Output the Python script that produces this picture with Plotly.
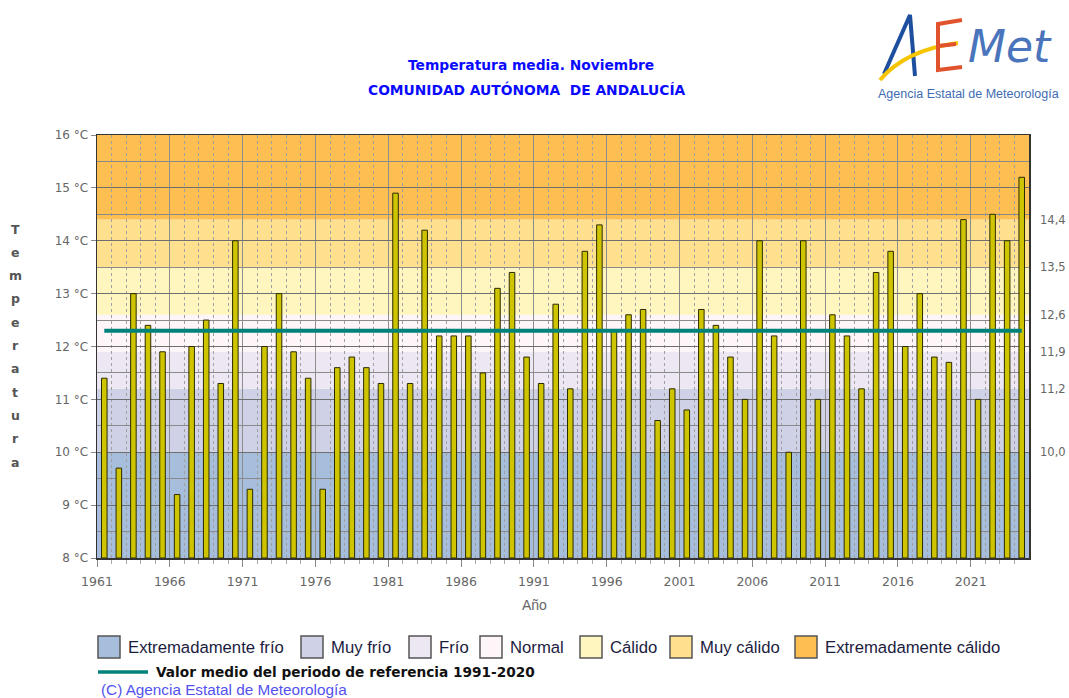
import plotly.graph_objects as go

# ---------------- data ----------------
years = list(range(1961, 2025))
temps = [11.4, 9.7, 13.0, 12.4, 11.9, 9.2, 12.0, 12.5, 11.3, 14.0,
         9.3, 12.0, 13.0, 11.9, 11.4, 9.3, 11.6, 11.8, 11.6, 11.3,
         14.9, 11.3, 14.2, 12.2, 12.2, 12.2, 11.5, 13.1, 13.4, 11.8,
         11.3, 12.8, 11.2, 13.8, 14.3, 12.3, 12.6, 12.7, 10.6, 11.2,
         10.8, 12.7, 12.4, 11.8, 11.0, 14.0, 12.2, 10.0, 14.0, 11.0,
         12.6, 12.2, 11.2, 13.4, 13.8, 12.0, 13.0, 11.8, 11.7, 14.4,
         11.0, 14.5, 14.0, 15.2]
ref_mean = 12.3
ref_label = "Valor medio del periodo de referencia 1991-2020"

band_names = ["Extremadamente frío", "Muy frío", "Frío", "Normal",
              "Cálido", "Muy cálido", "Extremadamente cálido"]
band_edges = [8.0, 10.0, 11.2, 11.9, 12.6, 13.5, 14.4, 16.0]
band_colors = ["#a6bddc", "#cfd1e6", "#ece7f2", "#fdf5f8",
               "#fff5bf", "#fee08f", "#fdbf52"]
right_ticks = [10.0, 11.2, 11.9, 12.6, 13.5, 14.4]
x_ticks = list(range(1961, 2025, 5))

title1 = "Temperatura media. Noviembre"
title2 = "COMUNIDAD AUTÓNOMA  DE ANDALUCÍA"
ytitle = "Temperatura"
copyright_txt = "(C) Agencia Estatal de Meteorología"

# ---------------- layout helpers ----------------
W_FIG, H_FIG = 1069, 698
L, R, T, B = 97, 1029, 135, 558          # plot area in window pixels
PW, PH = R - L, B - T


def px(x):
    return (x - L) / PW


def py(y):
    return (B - y) / PH


x_lo = years[0] - 0.5
x_hi = years[-1] + 0.5

fig = go.Figure()

fig.add_trace(go.Bar(
    x=years, y=[t - band_edges[0] for t in temps], base=band_edges[0],
    width=0.38,
    marker=dict(color="#cfc400", line=dict(color="#2b2b00", width=1)),
    showlegend=False, hoverinfo="skip"))

fig.add_trace(go.Scatter(
    x=[years[0], years[-1]], y=[ref_mean, ref_mean], mode="lines",
    line=dict(color="#00827a", width=4), showlegend=False, hoverinfo="skip"))

# invisible trace for right axis
fig.add_trace(go.Scatter(x=[years[0]], y=[band_edges[0]], yaxis="y2",
                         mode="markers", marker=dict(opacity=0),
                         showlegend=False, hoverinfo="skip"))

shapes = []
for i, name in enumerate(band_names):
    shapes.append(dict(type="rect", xref="x", yref="y", x0=x_lo, x1=x_hi,
                       y0=band_edges[i], y1=band_edges[i + 1],
                       fillcolor=band_colors[i], line=dict(width=0),
                       layer="below"))

annotations = []
# titles
annotations.append(dict(text="<b>" + title1 + "</b>", x=px(531), y=py(65),
                        xref="paper", yref="paper", showarrow=False,
                        xanchor="center", yanchor="middle",
                        font=dict(family="DejaVu Sans", size=13.8, color="#0a0aff")))
annotations.append(dict(text="<b>" + title2 + "</b>", x=px(527), y=py(90),
                        xref="paper", yref="paper", showarrow=False,
                        xanchor="center", yanchor="middle",
                        font=dict(family="DejaVu Sans", size=13.8, color="#0a0aff")))

# vertical y title
for k, ch in enumerate(ytitle):
    annotations.append(dict(text="<b>" + ch + "</b>", x=px(15), y=py(229 + k * 23.3),
                            xref="paper", yref="paper", showarrow=False,
                            xanchor="center", yanchor="middle",
                            font=dict(family="DejaVu Sans", size=12.5, color="#555555")))

# x axis title
annotations.append(dict(text="Año", x=px(534), y=py(605), xref="paper", yref="paper",
                        showarrow=False, xanchor="center", yanchor="middle",
                        font=dict(family="Liberation Sans", size=14, color="#666666")))

# legend
leg_x = [98, 301, 409, 480, 580, 670, 795]
for i, name in enumerate(band_names):
    x0 = leg_x[i]
    shapes.append(dict(type="rect", xref="paper", yref="paper",
                       x0=px(x0), x1=px(x0 + 22), y0=py(658), y1=py(636),
                       fillcolor=band_colors[i], line=dict(color="#555555", width=1.5)))
    annotations.append(dict(text=name, x=px(x0 + 28), y=py(647), xref="paper", yref="paper",
                            showarrow=False, xanchor="left", yanchor="middle",
                            font=dict(family="Liberation Sans", size=16.7, color="#1c1c40")))
shapes.append(dict(type="line", xref="paper", yref="paper", x0=px(98), x1=px(148),
                   y0=py(672), y1=py(672), line=dict(color="#00827a", width=3.5)))
annotations.append(dict(text="<b>" + ref_label + "</b>", x=px(154), y=py(672),
                        xref="paper", yref="paper", showarrow=False,
                        xanchor="left", yanchor="middle",
                        font=dict(family="DejaVu Sans", size=13.7, color="#111111")))
annotations.append(dict(text=copyright_txt, x=px(99), y=py(689),
                        xref="paper", yref="paper", showarrow=False,
                        xanchor="left", yanchor="middle",
                        font=dict(family="Liberation Sans", size=15.3, color="#5252ee")))

# logo (decorative)
shapes.append(dict(type="path", xref="paper", yref="paper",
                   path=f"M {px(884)},{py(74)} L {px(910)},{py(15)} L {px(915)},{py(76)}",
                   line=dict(color="#1d4f9e", width=4)))
shapes.append(dict(type="path", xref="paper", yref="paper",
                   path=f"M {px(880)},{py(80)} Q {px(905)},{py(50)} {px(958)},{py(43)}",
                   line=dict(color="#f6c400", width=4)))
shapes.append(dict(type="path", xref="paper", yref="paper",
                   path=f"M {px(962)},{py(20)} L {px(938)},{py(24)} L {px(938)},{py(70)} L {px(962)},{py(67)}",
                   line=dict(color="#e0532c", width=4)))
shapes.append(dict(type="path", xref="paper", yref="paper",
                   path=f"M {px(938)},{py(46)} L {px(956)},{py(44)}",
                   line=dict(color="#e0532c", width=4)))
annotations.append(dict(text="<i>Met</i>", x=px(1010), y=py(47), xref="paper", yref="paper",
                        showarrow=False, xanchor="center", yanchor="middle",
                        font=dict(family="DejaVu Sans", size=44, color="#4a74bb")))
annotations.append(dict(text="Agencia Estatal de Meteorología", x=px(968), y=py(94),
                        xref="paper", yref="paper", showarrow=False,
                        xanchor="center", yanchor="middle",
                        font=dict(family="Liberation Sans", size=12.5, color="#3e6cb3")))

fig.update_layout(
    template="none",
    width=W_FIG, height=H_FIG,
    margin=dict(l=L, r=W_FIG - R, t=T, b=H_FIG - B, pad=0, autoexpand=False),
    paper_bgcolor="white", plot_bgcolor="white",
    showlegend=False, bargap=0,
    shapes=shapes, annotations=annotations,
    xaxis=dict(range=[x_lo, x_hi], automargin=False,
               tickvals=[y - 0.5 for y in x_ticks], ticktext=[str(y) for y in x_ticks],
               showgrid=True, gridcolor="#8e8e8e", gridwidth=1,
               ticks="outside", ticklen=7, tickcolor="#888888",
               ticklabelstandoff=4,
               tickfont=dict(family="DejaVu Sans", size=12.5, color="#666666"),
               showline=True, linecolor="#333333", linewidth=1.5, mirror=True,
               minor=dict(tickvals=[y - 0.5 for y in years], showgrid=True,
                          gridcolor="#a0a0a0", griddash="dot", gridwidth=1,
                          ticks="outside", ticklen=4, tickcolor="#aaaaaa"),
               zeroline=False, fixedrange=True),
    yaxis=dict(range=[band_edges[0], band_edges[-1]], dtick=1, tick0=8, automargin=False,
               ticksuffix=" °C", showgrid=True, gridcolor="#6e6e6e", gridwidth=1,
               ticks="outside", ticklen=5, tickcolor="#888888",
               tickfont=dict(family="DejaVu Sans", size=12, color="#666666"),
               showline=True, linecolor="#333333", linewidth=1.5, mirror=True,
               minor=dict(dtick=0.5, showgrid=True, gridcolor="#8a8a8a", gridwidth=1),
               zeroline=False, fixedrange=True),
    yaxis2=dict(range=[band_edges[0], band_edges[-1]], overlaying="y", side="right",
                automargin=False, tickvals=right_ticks,
                ticktext=[f"{v:.1f}".replace(".", ",") for v in right_ticks],
                showgrid=False, zeroline=False, showline=False, ticks="",
                ticklabelstandoff=10,
                tickfont=dict(family="DejaVu Sans", size=11.5, color="#666666"),
                fixedrange=True),
)

# remove the default page margin so the figure fills the window exactly
fig.write_html("out.html",
               config={"displayModeBar": False, "staticPlot": True},
               post_script="document.body.style.margin='0';"
                           "document.body.style.overflow='hidden';")
